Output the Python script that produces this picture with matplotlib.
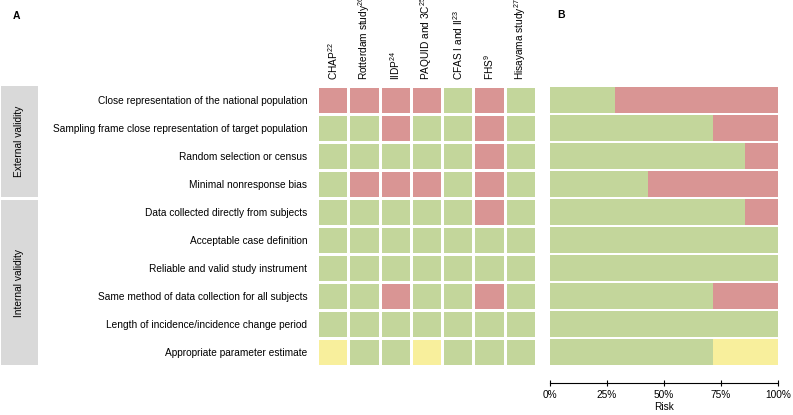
import numpy as np
import matplotlib
matplotlib.use('Agg')
import matplotlib.pyplot as plt
from matplotlib.colors import ListedColormap
from matplotlib.patches import Rectangle

plt.rcParams['font.family'] = ['Liberation Sans', 'DejaVu Sans']
plt.rcParams['mathtext.fontset'] = 'custom'
plt.rcParams['mathtext.rm'] = 'Liberation Sans'
plt.rcParams['mathtext.it'] = 'Liberation Sans:italic'
plt.rcParams['mathtext.bf'] = 'Liberation Sans:bold'

studies = [r'CHAP$^{22}$', r'Rotterdam study$^{26}$', r'IIDP$^{24}$', r'PAQUID and 3C$^{25}$',
           r'CFAS I and II$^{23}$', r'FHS$^{9}$', r'Hisayama study$^{27}$']
criteria = ['Close representation of the national population',
            'Sampling frame close representation of target population',
            'Random selection or census',
            'Minimal nonresponse bias',
            'Data collected directly from subjects',
            'Acceptable case definition',
            'Reliable and valid study instrument',
            'Same method of data collection for all subjects',
            'Length of incidence/incidence change period',
            'Appropriate parameter estimate']
# 0 = low risk, 1 = high risk, 2 = unclear
ratings = np.array([
    [1, 1, 1, 1, 0, 1, 0],
    [0, 0, 1, 0, 0, 1, 0],
    [0, 0, 0, 0, 0, 1, 0],
    [0, 1, 1, 1, 0, 1, 0],
    [0, 0, 0, 0, 0, 1, 0],
    [0, 0, 0, 0, 0, 0, 0],
    [0, 0, 0, 0, 0, 0, 0],
    [0, 0, 1, 0, 0, 1, 0],
    [0, 0, 0, 0, 0, 0, 0],
    [2, 0, 0, 2, 0, 0, 0],
])
groups = [('External validity', 86, 197), ('Internal validity', 200, 365)]

green, red, yellow = '#c3d69b', '#d99594', '#f8ef9c'
W, H = 793, 415
fs = 7.3

fig = plt.figure(figsize=(W / 100, H / 100), dpi=100)


def box(x0, y0, x1, y1):
    return [x0 / W, 1 - y1 / H, (x1 - x0) / W, (y1 - y0) / H]


# panel A grid
ax = fig.add_axes(box(317, 86, 536, 366))
ax.pcolormesh(ratings, cmap=ListedColormap([green, red, yellow]), vmin=-0.5, vmax=2.5,
              edgecolors='white', linewidth=2)
ax.set_xlim(0, len(studies))
ax.set_ylim(len(criteria), 0)
ax.set_yticks(np.arange(len(criteria)) + 0.5)
ax.set_yticklabels(criteria)
ax.xaxis.tick_top()
ax.set_xticks(np.arange(len(studies)) + 0.5)
ax.set_xticklabels(studies, rotation=90)
ax.tick_params(length=0, pad=7, labelsize=fs)
ax.tick_params(axis='x', pad=4)
for s in ax.spines.values():
    s.set_visible(False)

# panel B stacked bars
n = len(studies)
low = (ratings == 0).sum(axis=1) / n
high = (ratings == 1).sum(axis=1) / n
unclear = (ratings == 2).sum(axis=1) / n
y = np.arange(len(criteria)) + 0.5

bx = fig.add_axes(box(550, 86, 778, 366))
bx.barh(y, low, height=0.93, color=green)
bx.barh(y, high, left=low, height=0.93, color=red)
bx.barh(y, unclear, left=low + high, height=0.93, color=yellow)
bx.set_xlim(0, 1)
bx.set_ylim(len(criteria), 0)
bx.set_yticks([])
bx.set_xticks([0, 0.25, 0.5, 0.75, 1])
bx.set_xticklabels(['0%', '25%', '50%', '75%', '100%'])
bx.set_xlabel('Risk', fontsize=fs, labelpad=1)
for k in ['top', 'right', 'left']:
    bx.spines[k].set_visible(False)
bx.spines['bottom'].set_position(('outward', 12))
bx.spines['bottom'].set_linewidth(0.8)
bx.tick_params(axis='x', direction='inout', length=5, width=0.8, pad=3, labelsize=fs)

# group boxes
for name, y0, y1 in groups:
    fig.add_artist(Rectangle((1 / W, 1 - y1 / H), 37 / W, (y1 - y0) / H,
                             transform=fig.transFigure, color='#d9d9d9', lw=0))
    fig.text(19.5 / W, 1 - (y0 + y1) / 2 / H, name, rotation=90, ha='center', va='center',
             fontsize=fs)

fig.text(13 / W, 1 - 16 / H, 'A', fontsize=7.5, fontweight='bold', ha='left', va='center')
fig.text(557 / W, 1 - 15 / H, 'B', fontsize=7.5, fontweight='bold', ha='left', va='center')

fig.savefig('out.png', dpi=100)
